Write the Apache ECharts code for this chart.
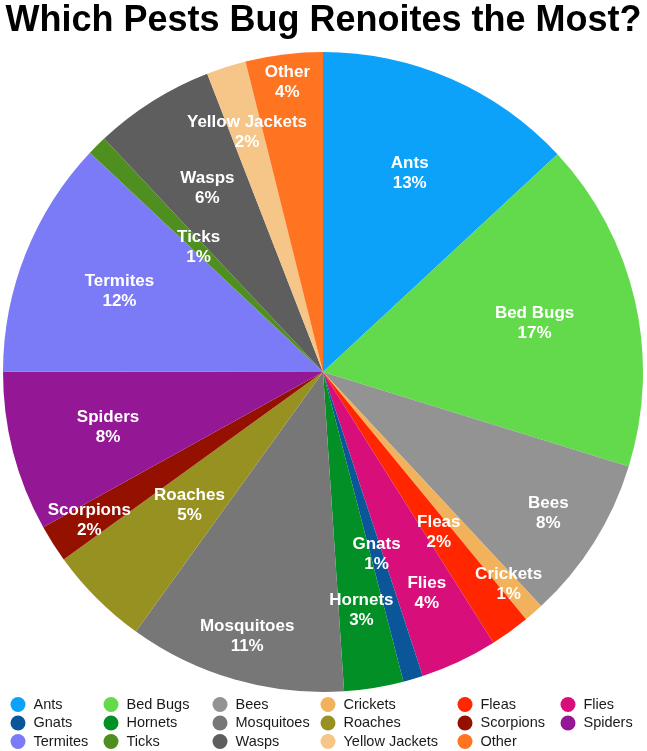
<!DOCTYPE html>
<html><head><meta charset="utf-8">
<script src="https://cdn.jsdelivr.net/npm/echarts@6/dist/echarts.min.js"></script>
<style>html,body{margin:0;padding:0;background:#fff}#c{width:647px;height:751px}</style>
</head><body><div id="c"></div>
<script>
// Data
var pests = ['Ants','Bed Bugs','Bees','Crickets','Fleas','Flies','Gnats','Hornets','Mosquitoes','Roaches','Scorpions','Spiders','Termites','Ticks','Wasps','Yellow Jackets','Other'];
var shares = [13.1,16.7,8.3,1.0,2.0,3.9,1.0,3.0,11.0,5.1,1.9,8.1,12.0,1.0,6.1,2.0,3.9];
var titleText = 'Which Pests Bug Renoites the Most?';

// Styles
var colors = ['#0ca2fa','#63da4b','#939393','#f2b15b','#ff2600','#d80f7a','#0b5699','#018f26','#777777','#979121','#941100','#941796','#7b7bf8','#4f8f1f','#5e5e5e','#f5c687','#fe7420'];
var labelRadius = [214,214,263,279,195,241,187,238,272,186,274,219,216,173,214,248,289];
var R = 320, CX = 323, CY = 372;
var FONT = '"Liberation Sans", Arial, Helvetica, sans-serif';

var baseData = pests.map(function(n,i){return {name:n,value:shares[i],itemStyle:{color:colors[i]}};});

var series = [{
  type:'pie', center:[CX,CY], radius:[0,R], startAngle:90, clockwise:true,
  data: baseData, label:{show:false}, labelLine:{show:false}, silent:true,
  emphasis:{disabled:true}
}];
pests.forEach(function(n,idx){
  series.push({
    type:'pie', center:[CX,CY], radius:[2*labelRadius[idx]-R, R], startAngle:90, clockwise:true,
    silent:true, emphasis:{disabled:true}, z:3,
    itemStyle:{color:'rgba(0,0,0,0)'},
    labelLine:{show:false},
    data: pests.map(function(m,i){
      return {name:m, value:shares[i], itemStyle:{color:'rgba(0,0,0,0)'},
        label:{show: i===idx}};
    }),
    label:{position:'inside', color:'#fff', fontFamily:FONT, fontWeight:'bold', fontSize:17, lineHeight:20,
      formatter:function(p){return p.name+'\n'+Math.round(p.percent)+'%';}}
  });
});

var colLeft = [10.5,103.5,212.5,320.5,457.5,560.5];
var legends = [];
for (var c=0;c<6;c++){
  var items=[];
  for (var r=0;r<3;r++){var k=r*6+c; if(k<pests.length) items.push({name:pests[k], itemStyle:{color:colors[k]}});}
  legends.push({orient:'vertical', left:colLeft[c], top:697, padding:0, itemGap:3.5, itemWidth:15, itemHeight:15,
    icon:'circle', selectedMode:false, data:items,
    textStyle:{fontFamily:FONT, fontSize:14.5, color:'#1a1a1a', padding:[0,0,0,3]}});
}

var chart = echarts.init(document.getElementById('c'), null, {renderer:'canvas'});
chart.setOption({
  animation:false,
  title:{text:titleText, left:'center', top:-2, textStyle:{fontFamily:FONT, fontWeight:'bold', fontSize:36, color:'#000'}},
  legend: legends,
  series: series
});
</script></body></html>
